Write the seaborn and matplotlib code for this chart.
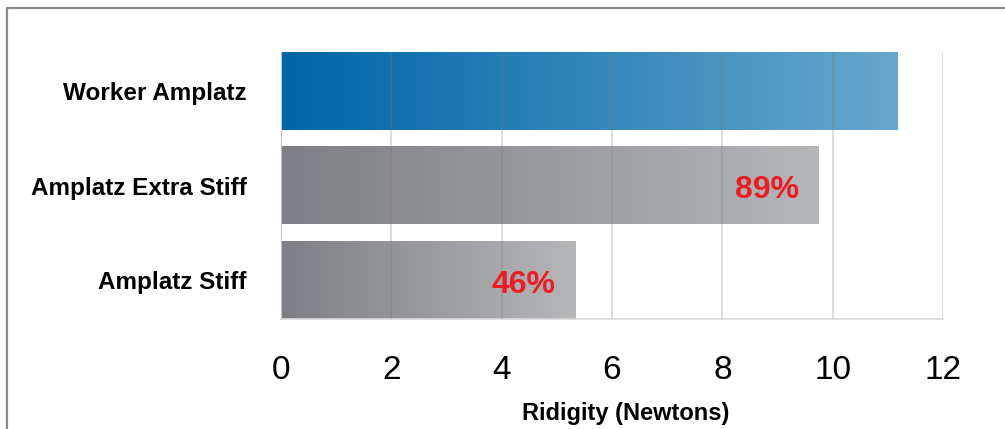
import seaborn as sns
import matplotlib.pyplot as plt
import matplotlib.lines as mlines
import numpy as np
import pandas as pd
from matplotlib.colors import LinearSegmentedColormap

# Data
guidewires = ['Worker Amplatz', 'Amplatz Extra Stiff', 'Amplatz Stiff']
ridigity = [11.17, 9.75, 5.34]
pct_labels = ['', '89%', '46%']
x_ticks = [0, 2, 4, 6, 8, 10, 12]

# Gradient colours (left -> right) for each bar
bar_gradients = [('#0065A8', '#66A7CD'),
                 ('#7E7F84', '#B5B6B8'),
                 ('#7E7F84', '#B5B6B8')]

df = pd.DataFrame({'wire': guidewires, 'ridigity': ridigity})

sns.set_style('white')
plt.rcParams['font.family'] = ['Liberation Sans', 'DejaVu Sans']

fig = plt.figure(figsize=(10.05, 4.29), dpi=100)
ax = fig.add_axes([0.2796, 0.2564, 0.6587, 0.6224])

sns.barplot(data=df, x='ridigity', y='wire', orient='h', width=0.815,
            color='#999999', ax=ax)

# Replace each flat bar with a horizontal gradient spanning the bar itself
grad = np.linspace(0, 1, 256).reshape(1, -1)
for patch, (c0, c1) in zip(ax.patches, bar_gradients):
    x0, y0 = patch.get_x(), patch.get_y()
    w, h = patch.get_width(), patch.get_height()
    cmap = LinearSegmentedColormap.from_list('g', [c0, c1])
    ax.imshow(grad, cmap=cmap, aspect='auto', extent=(x0, x0 + w, y0 + h, y0),
              zorder=1, interpolation='bicubic')
    patch.set_visible(False)

# percentage labels inside the grey bars
for i, (val, lab) in enumerate(zip(ridigity, pct_labels)):
    if lab:
        ax.text(val - 0.36, i + 0.045, lab, ha='right', va='center', color='#EC1C24',
                fontsize=23, fontweight='bold', zorder=4)

ax.set_xlim(0, 12)
ax.set_ylim(2.408, -0.417)
ax.set_xticks(x_ticks)
ax.set_xticklabels([str(t) for t in x_ticks], fontsize=24, color='#000000')
ax.tick_params(axis='x', length=0, pad=26)
ax.tick_params(axis='y', length=0, pad=24.5)
for lbl in ax.get_yticklabels():
    lbl.set_fontsize(17.5)
    lbl.set_fontweight('bold')
    lbl.set_color('#000000')

ax.xaxis.grid(True, color='#7a7a7a', alpha=0.3, linewidth=1.2, zorder=3)
ax.set_axisbelow(False)
ax.set_ylabel('')
ax.set_xlabel('Ridigity (Newtons)', fontsize=17, fontweight='bold', color='#000000')
ax.xaxis.set_label_coords(0.52, -0.31)

for side in ['top', 'right']:
    ax.spines[side].set_visible(False)
ax.spines['left'].set_color('#D9D9D9')
ax.spines['bottom'].set_color('#D9D9D9')
ax.spines['bottom'].set_linewidth(1.2)

# outer frame (only top and left edges are visible in the reference)
fig.add_artist(mlines.Line2D([0.007, 1.0], [0.981, 0.981], color='#8a8a8a',
                             linewidth=1.6, transform=fig.transFigure))
fig.add_artist(mlines.Line2D([0.007, 0.007], [0.0, 0.981], color='#8a8a8a',
                             linewidth=1.6, transform=fig.transFigure))

fig.savefig('out.png', dpi=100)
